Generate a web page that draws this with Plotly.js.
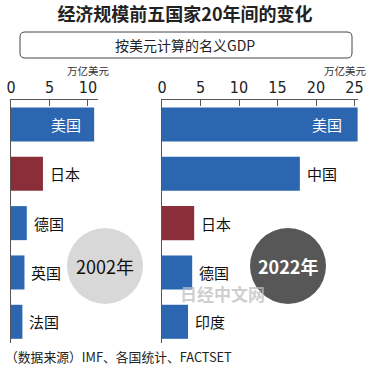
<!DOCTYPE html>
<html><head><meta charset="utf-8">
<script src="https://cdn.plot.ly/plotly-3.0.1.min.js"></script>
<style>html,body{margin:0;padding:0;background:#fff;}#chart{width:370px;height:368px;}</style>
</head><body><div id="chart"></div>
<script>
const countries2002 = ['美国','日本','德国','英国','法国'];
const gdp2002 = [10.8, 4.15, 2.05, 1.75, 1.48];
const countries2022 = ['美国','中国','日本','德国','印度'];
const gdp2022 = [25.4, 17.9, 4.18, 3.92, 3.38];
const ticks2002 = [0, 5, 10];
const ticks2022 = [0, 5, 10, 15, 20, 25];
const titleText = '经济规模前五国家20年间的变化';
const subtitleText = '按美元计算的名义GDP';
const unitText = '万亿美元';
const sourceText = '（数据来源）IMF、各国统计、FACTSET';
const year1 = '2002年', year2 = '2022年';

const BLUE = '#2c65b0', RED = '#8a2f3a';
const CJK = 'Noto Sans CJK SC, sans-serif';
const colorFor = c => c === '日本' ? RED : BLUE;

const traces = [
  {type:'bar', orientation:'h', x:gdp2002, y:countries2002, xaxis:'x', yaxis:'y',
   marker:{color:countries2002.map(colorFor)}, width:0.69, hoverinfo:'none'},
  {type:'bar', orientation:'h', x:gdp2022, y:countries2022, xaxis:'x2', yaxis:'y2',
   marker:{color:countries2022.map(colorFor)}, width:0.69, hoverinfo:'none'}
];

const annotations = [];
function addLabels(names, vals, xr, yr, inShift) {
  names.forEach((n,i) => {
    if (i === 0) {
      annotations.push({x:vals[i], y:n, xref:xr, yref:yr, text:n, showarrow:false,
        xanchor:'right', yanchor:'middle', xshift:inShift, font:{family:CJK, size:15, color:'#fff'}});
    } else {
      annotations.push({x:vals[i], y:n, xref:xr, yref:yr, text:n, showarrow:false,
        xanchor:'left', yanchor:'middle', xshift:5, font:{family:CJK, size:15, color:'#111'}});
    }
  });
}
addLabels(countries2002, gdp2002, 'x', 'y', -11);
addLabels(countries2022, gdp2022, 'x2', 'y2', -14);

function paperNote(px, py, text, font, xanchor) {
  annotations.push({xref:'paper', yref:'paper', x:px/370, y:1-py/368, text:text, showarrow:false,
    xanchor:xanchor || 'center', yanchor:'middle', font:font});
}
paperNote(185, 45, subtitleText, {family:CJK, size:14, color:'#222'});
paperNote(88, 70.5, unitText, {family:CJK, size:10.5, color:'#333'});
paperNote(345, 70.5, unitText, {family:CJK, size:10.5, color:'#333'});
paperNote(105, 266, year1, {family:CJK, size:18, color:'#111'});
paperNote(288, 266, '<b>'+year2+'</b>', {family:CJK, size:18, color:'#fff'});
paperNote(223, 293, '<b>日经中文网</b>', {family:CJK, size:17, color:'rgba(190,190,190,0.75)'});
paperNote(3, 356, sourceText, {family:CJK, size:12.8, color:'#222'}, 'left');

const rx = 5/370, ry = 5/368;
const bx0 = 20/370, bx1 = 352/370, by0 = 1-32/368, by1 = 1-58/368;
const boxPath = `M ${bx0+rx} ${by0} L ${bx1-rx} ${by0} Q ${bx1} ${by0} ${bx1} ${by0-ry} L ${bx1} ${by1+ry} Q ${bx1} ${by1} ${bx1-rx} ${by1} L ${bx0+rx} ${by1} Q ${bx0} ${by1} ${bx0} ${by1+ry} L ${bx0} ${by0-ry} Q ${bx0} ${by0} ${bx0+rx} ${by0} Z`;

const shapes = [
  {type:'path', xref:'paper', yref:'paper', path:boxPath, line:{color:'#444', width:1}},
  {type:'circle', xref:'paper', yref:'paper', x0:67/370, x1:143/370, y0:1-304/368, y1:1-228/368,
   fillcolor:'#d8d8d8', line:{width:0}, layer:'above'},
  {type:'circle', xref:'paper', yref:'paper', x0:250/370, x1:326/370, y0:1-304/368, y1:1-228/368,
   fillcolor:'#575757', line:{width:0}, layer:'above'}
];

const tickFont = {family:'Liberation Sans Narrow, DejaVu Sans Condensed, sans-serif', size:16, color:'#222'};
const xCommon = {side:'top', showline:true, linecolor:'#555', linewidth:1, ticks:'inside', ticklen:6,
  tickcolor:'#555', showgrid:false, zeroline:false, tickfont:tickFont, fixedrange:true};
const yCommon = {type:'category', showline:true, linecolor:'#555', linewidth:1, showticklabels:false,
  ticks:'', showgrid:false, zeroline:false, range:[4.43, -0.496], domain:[1-343/368, 1-100/368], fixedrange:true};

const layout = {
  width:370, height:368, margin:{l:0, r:0, t:0, b:0},
  paper_bgcolor:'#fff', plot_bgcolor:'#fff', showlegend:false,
  title:{text:'<b>'+titleText+'</b>', x:0.5, xanchor:'center', y:1-15/368, yanchor:'middle', yref:'container',
    font:{family:CJK, size:18, color:'#222'}},
  xaxis:Object.assign({}, xCommon, {domain:[11/370, 98/370], range:[0, 11.3], tickvals:ticks2002, anchor:'y'}),
  yaxis:Object.assign({}, yCommon, {anchor:'x'}),
  xaxis2:Object.assign({}, xCommon, {domain:[162/370, 358/370], range:[0, 25.45], tickvals:ticks2022, anchor:'y2'}),
  yaxis2:Object.assign({}, yCommon, {anchor:'x2'}),
  annotations:annotations, shapes:shapes
};
Plotly.newPlot('chart', traces, layout, {displayModeBar:false, staticPlot:true});
</script></body></html>
